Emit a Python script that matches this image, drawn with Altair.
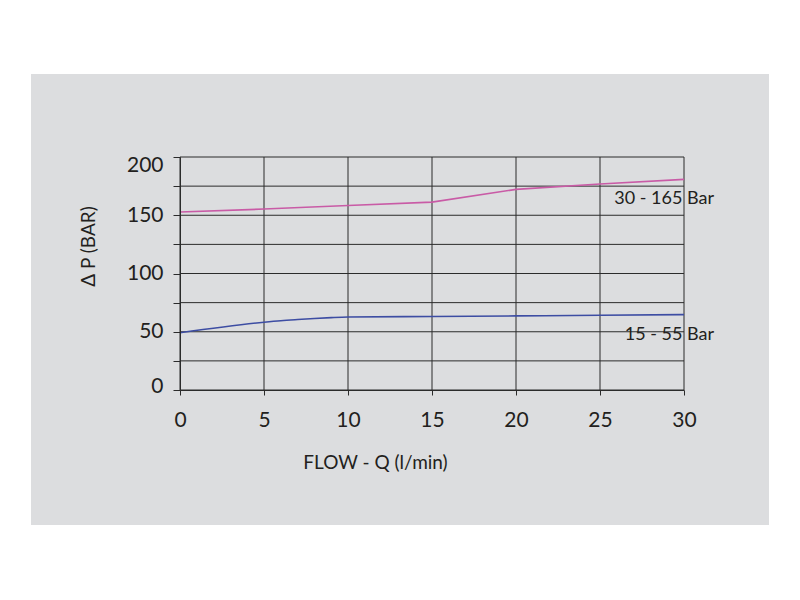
import altair as alt
import pandas as pd

# --- data -------------------------------------------------------------
flow = [0, 5, 6, 7, 8, 9, 10, 15, 20, 25, 30]
dp_low = [49.2, 58.2, 59.5, 60.5, 61.4, 62.1, 62.6, 63.1, 63.6, 64.1, 64.7]   # 15 - 55 Bar
flow_high = [0, 5, 10, 15, 20, 25, 30]
dp_high = [152.8, 155.3, 158.4, 161.3, 172.2, 176.8, 180.8]                   # 30 - 165 Bar
series_labels = ["30 - 165 Bar", "15 - 55 Bar"]
x_ticks = [0, 5, 10, 15, 20, 25, 30]
y_ticks = [0, 25, 50, 75, 100, 125, 150, 175, 200]

W, H = 504, 233
PAD_L, PAD_T = 172, 149

PANEL = "#dcdddf"
INK = "#231f20"
GRID = "#2b2b2b"
PINK = "#c95ba6"
BLUE = "#3d4da3"
FONT = "Lato"

low_df = pd.DataFrame({"flow": flow, "dp": dp_low, "series": series_labels[1]})
high_df = pd.DataFrame({"flow": flow_high, "dp": dp_high, "series": series_labels[0]})
lab_df = pd.DataFrame({
    "flow": [flow_high[-1], flow[-1]],
    "dp": [dp_high[-1], dp_low[-1]],
    "label": series_labels,
})

xs = alt.Scale(domain=[0, 30], nice=False, zero=False)
ys = alt.Scale(domain=[0, 200], nice=False)

x_axis = alt.Axis(
    values=x_ticks, title="FLOW - Q (l/min)", grid=False, zindex=2,
    tickSize=5, tickColor=GRID, domainColor=GRID, labelFlush=False,
    labelFont=FONT, labelFontSize=21, labelColor=INK, labelPadding=14,
    titleFont=FONT, titleFontSize=19, titleFontWeight="normal", titleColor=INK,
    titleX=195, titleY=78, titleAlign="center", titleBaseline="alphabetic",
    titleAnchor="start",
)
y_axis = alt.Axis(
    values=y_ticks, title="Δ  P (BAR)", grid=False, zindex=2,
    labelExpr="datum.value % 50 == 0 ? datum.label : ''",
    tickSize=7, tickColor=GRID, domainColor=GRID, labelFlush=False,
    labelBaseline="middle",
    labelOffset={"expr": "datum.value == 200 ? 8 : (datum.value == 0 ? -4 : 0)"},
    labelFont=FONT, labelFontSize=21, labelColor=INK, labelPadding=10,
    titleFont=FONT, titleFontSize=19, titleFontWeight="normal", titleColor=INK,
    titleX=-92, titleY=89, titleAngle=270, titleAlign="center",
    titleBaseline="middle", titleAnchor="start",
)

def X():
    return alt.X("flow:Q", scale=xs, axis=x_axis)

def Y():
    return alt.Y("dp:Q", scale=ys, axis=y_axis)

# background panel (decoration)
panel = alt.Chart(pd.DataFrame({"k": [0]})).mark_rect(color=PANEL).encode(
    x=alt.value(31 - 8 - PAD_L), x2=alt.value(769 - 8 - PAD_L),
    y=alt.value(74 - 8 - PAD_T), y2=alt.value(525 - 8 - PAD_T),
)

vgrid = alt.Chart(pd.DataFrame({"flow": x_ticks})).mark_rule(color=GRID, strokeWidth=1).encode(
    x=X()
)
hgrid = alt.Chart(pd.DataFrame({"dp": y_ticks})).mark_rule(color=GRID, strokeWidth=1).encode(
    y=Y()
)

line_high = alt.Chart(high_df).mark_line(color=PINK, strokeWidth=1.6).encode(x=X(), y=Y())
line_low = alt.Chart(low_df).mark_line(color=BLUE, strokeWidth=1.6, interpolate="monotone").encode(x=X(), y=Y())

labels = alt.Chart(lab_df).mark_text(
    font=FONT, fontSize=18, color=INK, align="right", baseline="middle", dx=30, dy=20
).encode(x=X(), y=Y(), text="label:N")

chart = alt.layer(panel, vgrid, hgrid, line_high, line_low, labels).properties(
    width=W, height=H,
    autosize=alt.AutoSizeParams(type="none"),
    padding={"left": PAD_L, "top": PAD_T, "right": 100, "bottom": 190},
).configure_view(stroke=None).configure(background="white")

chart.save("out.html", embed_options={"renderer": "svg", "actions": False})
